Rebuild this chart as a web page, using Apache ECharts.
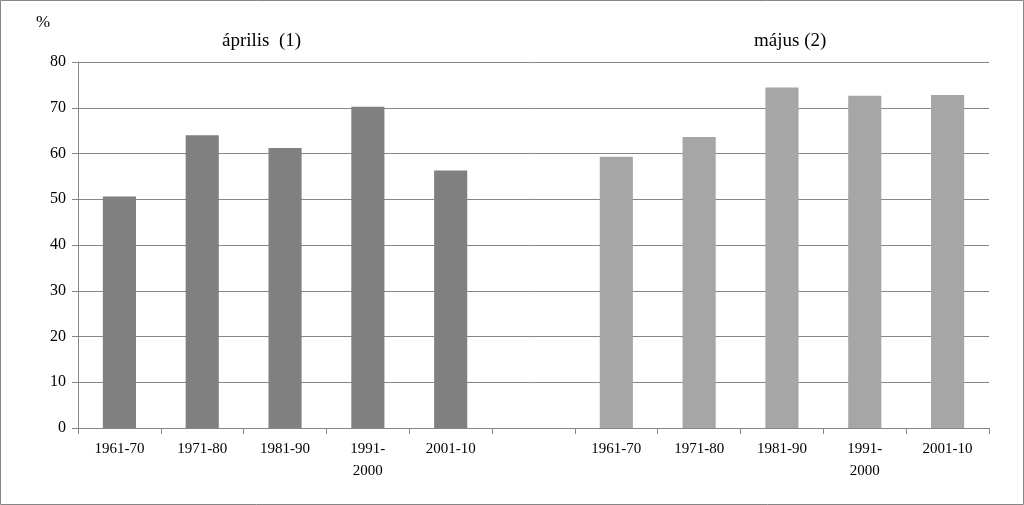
<!DOCTYPE html>
<html>
<head>
<meta charset="utf-8">
<script src="https://cdn.jsdelivr.net/npm/echarts@6/dist/echarts.min.js"></script>
<style>
html,body{margin:0;padding:0;background:#fff;}
#chart{width:1024px;height:505px;}
</style>
</head>
<body>
<div id="chart"></div>
<script>
var categories = ['1961-70','1971-80','1981-90','1991-\n2000','2001-10','',
                  '1961-70 ','1971-80 ','1981-90 ','1991-\n2000 ','2001-10 '];
var aprilis = [50.6, 64.0, 61.2, 70.2, 56.3, '-', '-', '-', '-', '-', '-'];
var majus = ['-', '-', '-', '-', '-', '-', 59.3, 63.6, 74.4, 72.6, 72.8];
var yTicks = [0, 10, 20, 30, 40, 50, 60, 70, 80];

var font = '"Liberation Serif", "Times New Roman", serif';
var myChart = echarts.init(document.getElementById('chart'));
var option = {
    animation: false,
    textStyle: {fontFamily: font},
    grid: {left: 78, right: 35, top: 62, bottom: 77},
    graphic: [
        {type: 'rect', shape: {x: 0.5, y: 0.5, width: 1023, height: 504},
         style: {fill: 'none', stroke: '#868686', lineWidth: 1}},
        {type: 'text', left: 36, top: 14, style: {text: '%', font: '17px ' + font, fill: '#000'}},
        {type: 'text', left: 222, top: 32, style: {text: 'április  (1)', font: '19px ' + font, fill: '#000'}},
        {type: 'text', left: 754, top: 32, style: {text: 'május (2)', font: '19px ' + font, fill: '#000'}}
    ],
    xAxis: {
        type: 'category',
        data: categories,
        axisLine: {lineStyle: {color: '#868686'}},
        axisTick: {show: true, length: 6, lineStyle: {color: '#868686'}},
        axisLabel: {color: '#000', fontSize: 15, fontFamily: font, margin: 10, interval: 0, lineHeight: 22,
            formatter: function (v) { return v.trim(); }}
    },
    yAxis: {
        type: 'value',
        min: yTicks[0], max: yTicks[yTicks.length - 1], interval: 10,
        axisLine: {show: true, lineStyle: {color: '#868686'}},
        axisTick: {show: true, length: 6, lineStyle: {color: '#868686'}},
        splitLine: {lineStyle: {color: '#868686'}},
        axisLabel: {color: '#000', fontSize: 16, fontFamily: font, margin: 12}
    },
    series: [
        {name: 'április', type: 'bar', data: aprilis, barWidth: '40%', barGap: '-100%',
         itemStyle: {color: '#808080'}},
        {name: 'május', type: 'bar', data: majus, barWidth: '40%',
         itemStyle: {color: '#a6a6a6'}}
    ]
};
myChart.setOption(option);
</script>
</body>
</html>
